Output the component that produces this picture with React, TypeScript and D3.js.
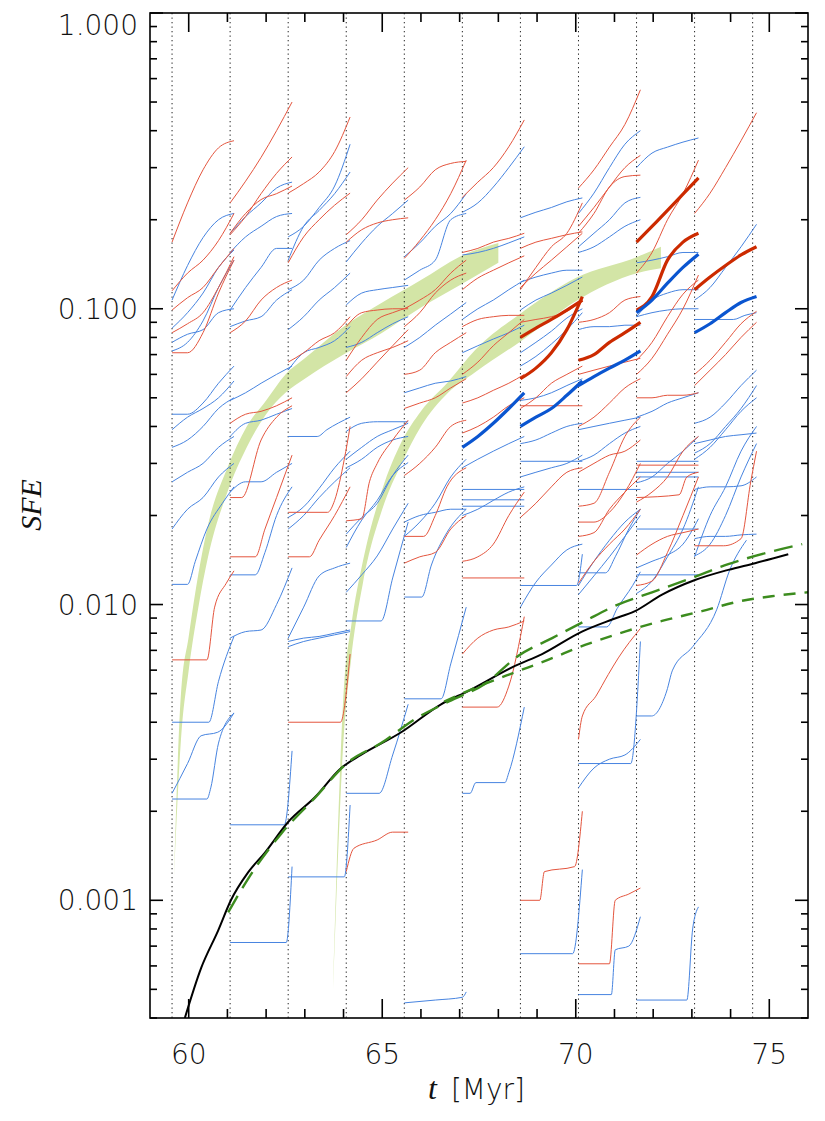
import { useEffect, useRef } from "react";
import * as d3 from "d3";

// snapshot times (dotted lines) and the standard sampling offsets of a track
const snapTimes = [59.57, 61.07, 62.57, 64.07, 65.57, 67.07, 68.57, 70.07, 71.57, 73.07, 74.57];
const sampleOffsets = [0, 0.4, 0.8, 1.2, 1.6];

// [snapshot, values at sampleOffsets] or [snapshot, [[dt, SFE], ...]]
type Track = [number, number[] | [number, number][]];

const redTracks: Track[] = [
  [0, [0.168, 0.228, 0.295, 0.35, 0.37]],
  [0, [0.115, 0.132, 0.146, 0.17, 0.21]],
  [0, [0.099, 0.109, 0.118, 0.138, 0.16]],
  [0, [0.083, 0.089, 0.097, 0.118, 0.15]],
  [0, [0.071, 0.071, 0.083, 0.113, 0.146]],
  [0, [[0, 0.0065], [0.9, 0.0065], [1.1, 0.0098], [1.4, 0.0118], [1.6, 0.013]]],
  [1, [0.228, 0.27, 0.325, 0.4, 0.5]],
  [1, [0.178, 0.205, 0.245, 0.287, 0.326]],
  [1, [0.18, 0.21, 0.234, 0.245, 0.26]],
  [1, [0.083, 0.091, 0.107, 0.118, 0.125]],
  [1, [0.041, 0.044, 0.045, 0.047, 0.05]],
  [1, [[0, 0.023], [0.3, 0.023], [0.8, 0.036], [1.2, 0.043], [1.6, 0.047]]],
  [1, [[0, 0.0145], [0.65, 0.0145], [0.9, 0.018], [1.2, 0.023], [1.6, 0.032]]],
  [2, [0.246, 0.265, 0.29, 0.34, 0.445]],
  [2, [0.143, 0.175, 0.2, 0.224, 0.246]],
  [2, [0.066, 0.071, 0.078, 0.083, 0.094]],
  [2, [[0, 0.0205], [1.02, 0.0205], [1.2, 0.0225], [1.45, 0.031], [1.6, 0.04]]],
  [2, [[0, 0.0145], [0.55, 0.0145], [0.8, 0.0165], [1.2, 0.02], [1.6, 0.025]]],
  [2, [[0, 0.004], [1.35, 0.004], [1.6, 0.0068]]],
  [3, [0.178, 0.2, 0.233, 0.266, 0.3]],
  [3, [0.168, 0.185, 0.195, 0.2, 0.203]],
  [3, [0.087, 0.097, 0.099, 0.1, 0.1]],
  [3, [0.067, 0.08, 0.092, 0.097, 0.101]],
  [3, [0.059, 0.067, 0.071, 0.074, 0.078]],
  [3, [0.052, 0.058, 0.066, 0.075, 0.085]],
  [3, [[0, 0.0192], [0.4, 0.0195], [0.6, 0.026], [0.8, 0.03], [1.2, 0.036], [1.6, 0.042]]],
  [3, [[0, 0.00125], [0.2, 0.0015], [0.8, 0.0016], [1.2, 0.0017], [1.6, 0.0017]]],
  [4, [0.233, 0.258, 0.295, 0.31, 0.315]],
  [4, [0.148, 0.17, 0.2, 0.245, 0.318]],
  [4, [0.1, 0.107, 0.116, 0.132, 0.146]],
  [4, [0.087, 0.097, 0.113, 0.125, 0.132]],
  [4, [0.06, 0.062, 0.071, 0.077, 0.083]],
  [4, [0.046, 0.048, 0.05, 0.054, 0.058]],
  [4, [0.0273, 0.03, 0.034, 0.04, 0.042]],
  [4, [[0, 0.017], [0.5, 0.017], [0.8, 0.02], [1.1, 0.025], [1.6, 0.029]]],
  [4, [0.0138, 0.0145, 0.015, 0.018, 0.02]],
  [5, [0.238, 0.268, 0.3, 0.353, 0.435]],
  [5, [0.155, 0.16, 0.168, 0.173, 0.18]],
  [5, [0.116, 0.127, 0.135, 0.143, 0.151]],
  [5, [0.087, 0.092, 0.094, 0.095, 0.095]],
  [5, [0.06, 0.066, 0.075, 0.083, 0.092]],
  [5, [0.048, 0.05, 0.053, 0.056, 0.06]],
  [5, [0.038, 0.04, 0.043, 0.047, 0.05]],
  [5, [0.014, 0.0145, 0.016, 0.02, 0.024]],
  [5, [[0, 0.0123], [1.6, 0.0123]]],
  [5, [0.0068, 0.0077, 0.0082, 0.0084, 0.0088]],
  [5, [[0, 0.0045], [0.9, 0.0045], [1.2, 0.0053], [1.6, 0.0091]]],
  [6, [0.16, 0.168, 0.173, 0.178, 0.182]],
  [6, [0.116, 0.138, 0.162, 0.18, 0.228]],
  [6, [0.118, 0.132, 0.146, 0.162, 0.18]],
  [6, [0.09, 0.092, 0.094, 0.098, 0.107]],
  [6, [[0, 0.047], [1.6, 0.047]]],
  [6, [0.046, 0.05, 0.056, 0.06, 0.064]],
  [6, [0.0197, 0.022, 0.025, 0.028, 0.029]],
  [6, [[0, 0.001], [0.5, 0.001], [0.62, 0.00125], [1.4, 0.0013], [1.6, 0.002]]],
  [7, [0.256, 0.295, 0.352, 0.42, 0.55]],
  [7, [0.19, 0.22, 0.258, 0.3, 0.33]],
  [7, [0.18, 0.21, 0.258, 0.28, 0.283]],
  [7, [0.09, 0.092, 0.097, 0.107, 0.11]],
  [7, [0.06, 0.062, 0.064, 0.066, 0.068]],
  [7, [0.04, 0.043, 0.048, 0.054, 0.058]],
  [7, [0.028, 0.03, 0.032, 0.033, 0.036]],
  [7, [0.0215, 0.022, 0.028, 0.037, 0.043]],
  [7, [0.019, 0.019, 0.0205, 0.024, 0.03]],
  [7, [0.017, 0.0175, 0.021, 0.024, 0.027]],
  [7, [0.0118, 0.014, 0.016, 0.018, 0.021]],
  [7, [[0, 0.0035], [0.1, 0.0042], [0.45, 0.0049], [0.77, 0.0058], [1.03, 0.0066], [1.6, 0.0083]]],
  [7, [[0, 0.00061], [0.8, 0.00061], [0.95, 0.001], [1.3, 0.00105], [1.6, 0.0011]]],
  [8, [0.132, 0.155, 0.2, 0.245, 0.318]],
  [8, [0.067, 0.077, 0.094, 0.112, 0.125]],
  [8, [0.06, 0.068, 0.082, 0.1, 0.13]],
  [8, [0.05, 0.05, 0.051, 0.051, 0.052]],
  [8, [[0, 0.0296], [1.6, 0.0296]]],
  [8, [[0, 0.023], [1.1, 0.0235], [1.3, 0.027], [1.6, 0.028]]],
  [8, [0.0222, 0.024, 0.027, 0.033, 0.037]],
  [8, [0.0147, 0.016, 0.017, 0.0175, 0.018]],
  [8, [0.0116, 0.012, 0.015, 0.02, 0.027]],
  [9, [0.21, 0.246, 0.3, 0.37, 0.46]],
  [9, [0.06, 0.067, 0.077, 0.089, 0.098]],
  [9, [0.055, 0.062, 0.07, 0.08, 0.09]],
  [9, [[0, 0.0158], [0.75, 0.0158], [1.2, 0.0167], [1.45, 0.026], [1.6, 0.033]]],
];

const blueTracks: Track[] = [
  [0, [0.107, 0.14, 0.174, 0.2, 0.21]],
  [0, [0.086, 0.097, 0.113, 0.138, 0.158]],
  [0, [0.077, 0.082, 0.085, 0.097, 0.1]],
  [0, [0.072, 0.077, 0.091, 0.118, 0.146]],
  [0, [0.044, 0.044, 0.048, 0.056, 0.064]],
  [0, [0.039, 0.043, 0.046, 0.05, 0.057]],
  [0, [0.034, 0.036, 0.04, 0.046, 0.05]],
  [0, [0.026, 0.028, 0.03, 0.034, 0.037]],
  [0, [0.018, 0.021, 0.023, 0.027, 0.03]],
  [0, [[0, 0.0117], [0.4, 0.0117], [0.6, 0.014], [0.9, 0.018], [1.3, 0.022], [1.6, 0.025]]],
  [0, [[0, 0.004], [0.95, 0.004], [1.2, 0.0055], [1.6, 0.0078]]],
  [0, [[0, 0.0023], [0.4, 0.0029], [0.75, 0.0036], [1.18, 0.0037], [1.6, 0.0043]]],
  [0, [[0, 0.0022], [0.9, 0.0022], [1.0, 0.0024], [1.2, 0.0034], [1.6, 0.0043]]],
  [1, [0.18, 0.205, 0.228, 0.256, 0.268]],
  [1, [0.155, 0.175, 0.19, 0.205, 0.21]],
  [1, [0.099, 0.118, 0.138, 0.16, 0.16]],
  [1, [0.087, 0.091, 0.094, 0.107, 0.116]],
  [1, [0.049, 0.052, 0.056, 0.06, 0.064]],
  [1, [0.037, 0.041, 0.042, 0.044, 0.046]],
  [1, [0.024, 0.026, 0.026, 0.028, 0.03]],
  [1, [[0, 0.0126], [0.65, 0.0126], [0.9, 0.015], [1.2, 0.02], [1.6, 0.025]]],
  [1, [0.0077, 0.0081, 0.0082, 0.01, 0.0133]],
  [1, [[0, 0.0018], [1.4, 0.0018], [1.6, 0.0032]]],
  [1, [[0, 0.00072], [1.45, 0.00072], [1.6, 0.0013]]],
  [2, [0.175, 0.19, 0.22, 0.26, 0.36]],
  [2, [0.146, 0.19, 0.215, 0.245, 0.29]],
  [2, [0.116, 0.125, 0.146, 0.16, 0.17]],
  [2, [0.085, 0.094, 0.107, 0.118, 0.132]],
  [2, [0.062, 0.071, 0.074, 0.078, 0.087]],
  [2, [[0, 0.037], [0.75, 0.037], [1.0, 0.039], [1.6, 0.043]]],
  [2, [0.018, 0.02, 0.023, 0.026, 0.029]],
  [2, [0.0197, 0.0214, 0.0247, 0.029, 0.033]],
  [2, [0.0077, 0.0098, 0.0125, 0.0133, 0.0138]],
  [2, [0.0075, 0.0077, 0.0078, 0.008, 0.0082]],
  [2, [0.0072, 0.0075, 0.0077, 0.0079, 0.0081]],
  [2, [[0, 0.0012], [1.45, 0.0012], [1.6, 0.0021]]],
  [3, [0.144, 0.167, 0.19, 0.21, 0.233]],
  [3, [0.103, 0.113, 0.116, 0.118, 0.12]],
  [3, [0.074, 0.077, 0.083, 0.089, 0.094]],
  [3, [[0, 0.0385], [0.4, 0.041], [0.8, 0.0415], [1.6, 0.0415]]],
  [3, [0.031, 0.034, 0.037, 0.039, 0.041]],
  [3, [0.029, 0.031, 0.034, 0.036, 0.037]],
  [3, [0.0173, 0.0197, 0.022, 0.0273, 0.032]],
  [3, [0.0156, 0.0193, 0.0225, 0.0273, 0.0302]],
  [3, [0.011, 0.0126, 0.0146, 0.018, 0.022]],
  [3, [[0, 0.0088], [0.9, 0.0088], [1.2, 0.0123], [1.6, 0.019]]],
  [3, [[0, 0.0023], [0.85, 0.0023], [1.2, 0.0031], [1.6, 0.0046]]],
  [4, [0.15, 0.167, 0.19, 0.21, 0.245]],
  [4, [0.125, 0.135, 0.146, 0.2, 0.21]],
  [4, [0.074, 0.08, 0.088, 0.096, 0.105]],
  [4, [0.052, 0.054, 0.056, 0.057, 0.059]],
  [4, [0.017, 0.019, 0.022, 0.027, 0.031]],
  [4, [0.019, 0.02, 0.0205, 0.021, 0.021]],
  [4, [[0, 0.0106], [0.45, 0.0106], [0.7, 0.0136], [1.1, 0.0175], [1.6, 0.021]]],
  [4, [[0, 0.0048], [0.95, 0.0048], [1.2, 0.0063], [1.6, 0.0098]]],
  [4, [[0, 0.00045], [0.8, 0.00046], [1.5, 0.00047], [1.6, 0.00049]]],
  [5, [0.212, 0.228, 0.258, 0.3, 0.353]],
  [5, [0.152, 0.155, 0.16, 0.167, 0.175]],
  [5, [0.092, 0.1, 0.107, 0.116, 0.125]],
  [5, [0.071, 0.075, 0.079, 0.083, 0.088]],
  [5, [0.029, 0.031, 0.033, 0.035, 0.037]],
  [5, [[0, 0.0245], [1.6, 0.0245]]],
  [5, [[0, 0.0226], [1.6, 0.0226]]],
  [5, [[0, 0.0215], [1.6, 0.0215]]],
  [5, [0.02, 0.021, 0.0225, 0.024, 0.025]],
  [5, [[0, 0.0023], [0.2, 0.0023], [0.35, 0.0025], [1.1, 0.0025], [1.2, 0.0027], [1.6, 0.0045]]],
  [6, [0.203, 0.212, 0.22, 0.23, 0.237]],
  [6, [0.123, 0.128, 0.132, 0.135, 0.135]],
  [6, [0.099, 0.107, 0.113, 0.12, 0.128]],
  [6, [0.071, 0.077, 0.084, 0.093, 0.1]],
  [6, [0.064, 0.069, 0.076, 0.085, 0.097]],
  [6, [0.049, 0.05, 0.052, 0.055, 0.058]],
  [6, [0.035, 0.036, 0.038, 0.04, 0.041]],
  [6, [[0, 0.0305], [1.6, 0.0305]]],
  [6, [0.027, 0.028, 0.029, 0.03, 0.032]],
  [6, [[0, 0.0116], [1.45, 0.0116], [1.6, 0.0148]]],
  [6, [0.0098, 0.0119, 0.0136, 0.0153, 0.016]],
  [6, [[0, 0.00066], [1.35, 0.00066], [1.6, 0.00127]]],
  [7, [0.21, 0.246, 0.3, 0.36, 0.4]],
  [7, [0.162, 0.18, 0.2, 0.228, 0.238]],
  [7, [0.155, 0.162, 0.175, 0.19, 0.2]],
  [7, [0.085, 0.087, 0.087, 0.088, 0.088]],
  [7, [0.039, 0.04, 0.041, 0.042, 0.043]],
  [7, [0.0305, 0.032, 0.035, 0.038, 0.04]],
  [7, [[0, 0.0245], [1.6, 0.0245]]],
  [7, [[0, 0.0128], [0.7, 0.0128], [0.95, 0.0145], [1.3, 0.018], [1.6, 0.021]]],
  [7, [0.0116, 0.014, 0.0165, 0.019, 0.021]],
  [7, [0.0108, 0.0125, 0.0145, 0.017, 0.02]],
  [7, [[0, 0.0084], [0.73, 0.0084], [1.0, 0.0097], [1.4, 0.0116], [1.6, 0.0129]]],
  [7, [[0, 0.0029], [1.35, 0.0029], [1.6, 0.0075]]],
  [7, [0.0024, 0.0028, 0.003, 0.0031, 0.0035]],
  [7, [[0, 0.00048], [0.85, 0.00048], [0.95, 0.00068], [1.3, 0.0007], [1.6, 0.00088]]],
  [8, [0.3, 0.336, 0.352, 0.366, 0.378]],
  [8, [0.143, 0.146, 0.15, 0.155, 0.155]],
  [8, [0.094, 0.107, 0.113, 0.116, 0.116]],
  [8, [0.094, 0.097, 0.099, 0.1, 0.1]],
  [8, [0.043, 0.045, 0.048, 0.05, 0.052]],
  [8, [[0, 0.0305], [1.6, 0.0305]]],
  [8, [[0, 0.028], [1.6, 0.028]]],
  [8, [[0, 0.027], [1.6, 0.027]]],
  [8, [0.0258, 0.027, 0.03, 0.033, 0.037]],
  [8, [[0, 0.018], [1.6, 0.018]]],
  [8, [0.0133, 0.014, 0.0147, 0.016, 0.0195]],
  [8, [[0, 0.0126], [1.6, 0.0126]]],
  [8, [0.0109, 0.012, 0.0145, 0.018, 0.025]],
  [8, [[0, 0.0042], [0.39, 0.0042], [0.78, 0.0051], [0.93, 0.006], [1.45, 0.0072], [2.07, 0.0096], [2.4, 0.013], [2.84, 0.0165]]],
  [8, [[0, 0.00046], [1.3, 0.00046], [1.45, 0.0008], [1.6, 0.00095]]],
  [9, [0.107, 0.118, 0.138, 0.162, 0.193]],
  [9, [[0, 0.092], [1.0, 0.092], [1.3, 0.095], [1.6, 0.097]]],
  [9, [0.041, 0.043, 0.048, 0.055, 0.062]],
  [9, [0.035, 0.036, 0.037, 0.0375, 0.038]],
  [9, [0.0325, 0.035, 0.04, 0.046, 0.055]],
  [9, [0.031, 0.034, 0.039, 0.045, 0.05]],
  [9, [0.0245, 0.025, 0.025, 0.0252, 0.027]],
  [9, [0.0167, 0.017, 0.017, 0.0172, 0.0173]],
  [9, [0.0146, 0.016, 0.02, 0.027, 0.035]],
  [9, [0.0145, 0.02, 0.025, 0.033, 0.04]],
];

const thickRed: Track[] = [
  [6, [0.058, 0.063, 0.071, 0.085, 0.11]],
  [6, [0.08, 0.086, 0.092, 0.099, 0.107]],
  [7, [0.067, 0.07, 0.077, 0.083, 0.09]],
  [8, [0.168, 0.19, 0.215, 0.244, 0.277]],
  [8, [0.099, 0.11, 0.146, 0.168, 0.18]],
  [9, [0.116, 0.128, 0.14, 0.152, 0.162]],
];

const thickBlue: Track[] = [
  [5, [0.034, 0.037, 0.041, 0.046, 0.052]],
  [6, [0.04, 0.043, 0.046, 0.051, 0.057]],
  [7, [0.055, 0.059, 0.063, 0.067, 0.072]],
  [8, [0.097, 0.107, 0.122, 0.138, 0.153]],
  [9, [0.083, 0.089, 0.097, 0.105, 0.11]],
];

// [t, SFE]
const meanCurve: [number, number][] = [
  [59.9, 0.0004], [60.32, 0.00059], [60.76, 0.00079], [61.09, 0.001], [61.53, 0.00124],
  [61.97, 0.00145], [62.57, 0.00184], [63.26, 0.00223], [63.94, 0.0028], [64.45, 0.0031],
  [65.49, 0.0037], [66.52, 0.0046], [67.22, 0.0051], [68.43, 0.0062], [69.13, 0.0068],
  [70.16, 0.0081], [70.94, 0.0089], [71.53, 0.0095], [72.23, 0.0108], [73.08, 0.0121],
  [73.94, 0.0131], [74.63, 0.0138], [75.49, 0.0148],
];

const fitLong: [number, number][] = [
  [61.02, 0.00091], [61.53, 0.00118], [62.39, 0.00168], [63.26, 0.00222], [64.12, 0.00293],
  [64.97, 0.0034], [65.85, 0.0041], [66.72, 0.0047], [67.66, 0.0054], [68.51, 0.0067],
  [69.39, 0.0077], [70.24, 0.0088], [71.09, 0.01], [71.97, 0.011], [73.0, 0.0123],
  [73.94, 0.0137], [74.97, 0.015], [75.85, 0.016],
];

const fitShort: [number, number][] = [
  [66.6, 0.0047], [67.66, 0.0054], [68.43, 0.0059], [69.28, 0.0065], [70.24, 0.0073],
  [71.27, 0.0081], [72.23, 0.0088], [73.26, 0.0095], [74.3, 0.0103], [75.15, 0.0107],
  [76.0, 0.011],
];

// [t, lower, upper]
const band1: [number, number, number][] = [
  [59.62, 0.0012, 0.0012], [59.8, 0.0035, 0.005], [60.0, 0.006, 0.0078], [60.25, 0.0098, 0.0127],
  [60.5, 0.0145, 0.0186], [61.0, 0.024, 0.029], [61.5, 0.034, 0.04], [62.0, 0.044, 0.049],
  [62.5, 0.052, 0.06], [63.0, 0.058, 0.068], [64.0, 0.07, 0.087], [65.0, 0.083, 0.105],
  [66.0, 0.101, 0.125], [67.0, 0.12, 0.15], [68.0, 0.143, 0.167],
];

const band2: [number, number, number][] = [
  [63.73, 0.0005, 0.0005], [64.0, 0.0035, 0.005], [64.2, 0.0066, 0.0085], [64.5, 0.0118, 0.014],
  [65.0, 0.021, 0.0245], [65.5, 0.03, 0.0355], [66.0, 0.04, 0.045], [66.7, 0.052, 0.0565],
  [67.4, 0.061, 0.0725], [68.6, 0.078, 0.097], [70.0, 0.106, 0.127], [71.6, 0.132, 0.15],
  [72.2, 0.137, 0.162],
];

const xMajor = [60, 65, 70, 75];
const yLabelValues = [0.001, 0.01, 0.1, 1];
const yLabelText = ["0.001", "0.010", "0.100", "1.000"];

export default function App() {
  const ref = useRef<SVGSVGElement>(null);

  useEffect(() => {
    if (!ref.current) return;
    const svg = d3.select(ref.current);
    svg.selectAll("*").remove();

    const L = 150, R = 808, T = 13, B = 1018;
    const x = d3.scaleLinear().domain([59, 76]).range([L, R]);
    const y = d3.scaleLog().domain([4e-4, 1]).range([B, T]);

    svg.append("defs").append("clipPath").attr("id", "plotclip")
      .append("rect").attr("x", L).attr("y", T).attr("width", R - L).attr("height", B - T);

    const g = svg.append("g").attr("clip-path", "url(#plotclip)");

    const toPts = (tr: Track): [number, number][] => {
      const [s, vals] = tr;
      if (Array.isArray(vals[0])) {
        return (vals as [number, number][]).map(([dt, v]) => [snapTimes[s] + dt, v]);
      }
      return (vals as number[]).map((v, i) => [snapTimes[s] + sampleOffsets[i], v]);
    };

    const line = d3.line<[number, number]>()
      .x((d) => x(d[0]))
      .y((d) => y(d[1]))
      .curve(d3.curveMonotoneX);

    // shaded bands
    const area = d3.area<[number, number, number]>()
      .x((d) => x(d[0]))
      .y0((d) => y(d[1]))
      .y1((d) => y(d[2]))
      .curve(d3.curveMonotoneX);
    [band1, band2].forEach((b) => {
      g.append("path").datum(b).attr("d", area).attr("fill", "#d3e5a6");
    });

    // snapshot lines
    g.selectAll("line.snap")
      .data(snapTimes)
      .enter()
      .append("line")
      .attr("x1", (d) => x(d))
      .attr("x2", (d) => x(d))
      .attr("y1", T)
      .attr("y2", B)
      .attr("stroke", "#222")
      .attr("stroke-width", 1)
      .attr("stroke-dasharray", "1.3,3.2");

    // thin tracks
    const drawTracks = (tracks: Track[], color: string, w: number) => {
      tracks.forEach((tr) => {
        g.append("path")
          .datum(toPts(tr))
          .attr("d", line)
          .attr("fill", "none")
          .attr("stroke", color)
          .attr("stroke-width", w);
      });
    };
    drawTracks(blueTracks, "#4784e0", 1);
    drawTracks(redTracks, "#e4553e", 1);
    drawTracks(thickRed, "#cc2a00", 3.2);
    drawTracks(thickBlue, "#0a55d0", 3.2);

    // mean SFE and fits
    g.append("path").datum(meanCurve).attr("d", line)
      .attr("fill", "none").attr("stroke", "#000").attr("stroke-width", 2);
    g.append("path").datum(fitLong).attr("d", line)
      .attr("fill", "none").attr("stroke", "#3c8c1e").attr("stroke-width", 2.4)
      .attr("stroke-dasharray", "19,9");
    g.append("path").datum(fitShort).attr("d", line)
      .attr("fill", "none").attr("stroke", "#3c8c1e").attr("stroke-width", 2.4)
      .attr("stroke-dasharray", "12,9");

    // frame
    svg.append("rect").attr("x", L).attr("y", T).attr("width", R - L).attr("height", B - T)
      .attr("fill", "none").attr("stroke", "#000").attr("stroke-width", 1.6);

    const ax = svg.append("g").attr("stroke", "#000").attr("stroke-width", 1.6);

    // y ticks (log)
    const yTicks: { v: number; major: boolean }[] = [];
    for (let e = -4; e <= 0; e++) {
      for (let m = 1; m <= 9; m++) {
        const v = m * Math.pow(10, e);
        if (v >= 4e-4 * 0.999 && v <= 1.0001) yTicks.push({ v, major: m === 1 });
      }
    }
    yTicks.forEach(({ v, major }) => {
      const len = major ? 13 : 7;
      const yy = y(v);
      ax.append("line").attr("x1", L).attr("x2", L + len).attr("y1", yy).attr("y2", yy);
      ax.append("line").attr("x1", R).attr("x2", R - len).attr("y1", yy).attr("y2", yy);
    });

    // x ticks
    d3.range(60, 76).forEach((t) => {
      const len = xMajor.includes(t) ? 19 : 9;
      const xx = x(t);
      ax.append("line").attr("x1", xx).attr("x2", xx).attr("y1", B).attr("y2", B - len);
      ax.append("line").attr("x1", xx).attr("x2", xx).attr("y1", T).attr("y2", T + len);
    });

    const font = "'DejaVu Sans', sans-serif";

    svg.selectAll("text.ylab")
      .data(yLabelValues)
      .enter()
      .append("text")
      .attr("x", 138)
      .attr("y", (d) => Math.max(y(d), 25))
      .attr("dy", "0.36em")
      .attr("text-anchor", "end")
      .attr("font-family", font)
      .attr("font-weight", 200)
      .attr("font-size", 28)
      .attr("fill", "#111")
      .text((_, i) => yLabelText[i]);

    svg.selectAll("text.xlab")
      .data(xMajor)
      .enter()
      .append("text")
      .attr("x", (d) => x(d))
      .attr("y", 1064)
      .attr("text-anchor", "middle")
      .attr("font-family", font)
      .attr("font-weight", 200)
      .attr("font-size", 28)
      .attr("fill", "#111")
      .text((d) => String(d));

    const xt = svg.append("text")
      .attr("x", 428)
      .attr("y", 1099)
      .attr("font-size", 28)
      .attr("fill", "#111");
    xt.append("tspan")
      .attr("font-family", "'Liberation Serif', serif")
      .attr("font-style", "italic")
      .attr("font-size", 32)
      .text("t");
    xt.append("tspan")
      .attr("dx", 14)
      .attr("font-family", font)
      .attr("font-weight", 200)
      .text("[Myr]");

    svg.append("text")
      .attr("transform", "translate(41,505) rotate(-90)")
      .attr("text-anchor", "middle")
      .attr("font-family", "'Liberation Serif', serif")
      .attr("font-style", "italic")
      .attr("font-size", 30)
      .attr("fill", "#111")
      .text("SFE");
  }, []);

  return (
    <svg
      ref={ref}
      width={825}
      height={1121}
      style={{ position: "absolute", left: 0, top: 0, background: "#fff" }}
    />
  );
}
